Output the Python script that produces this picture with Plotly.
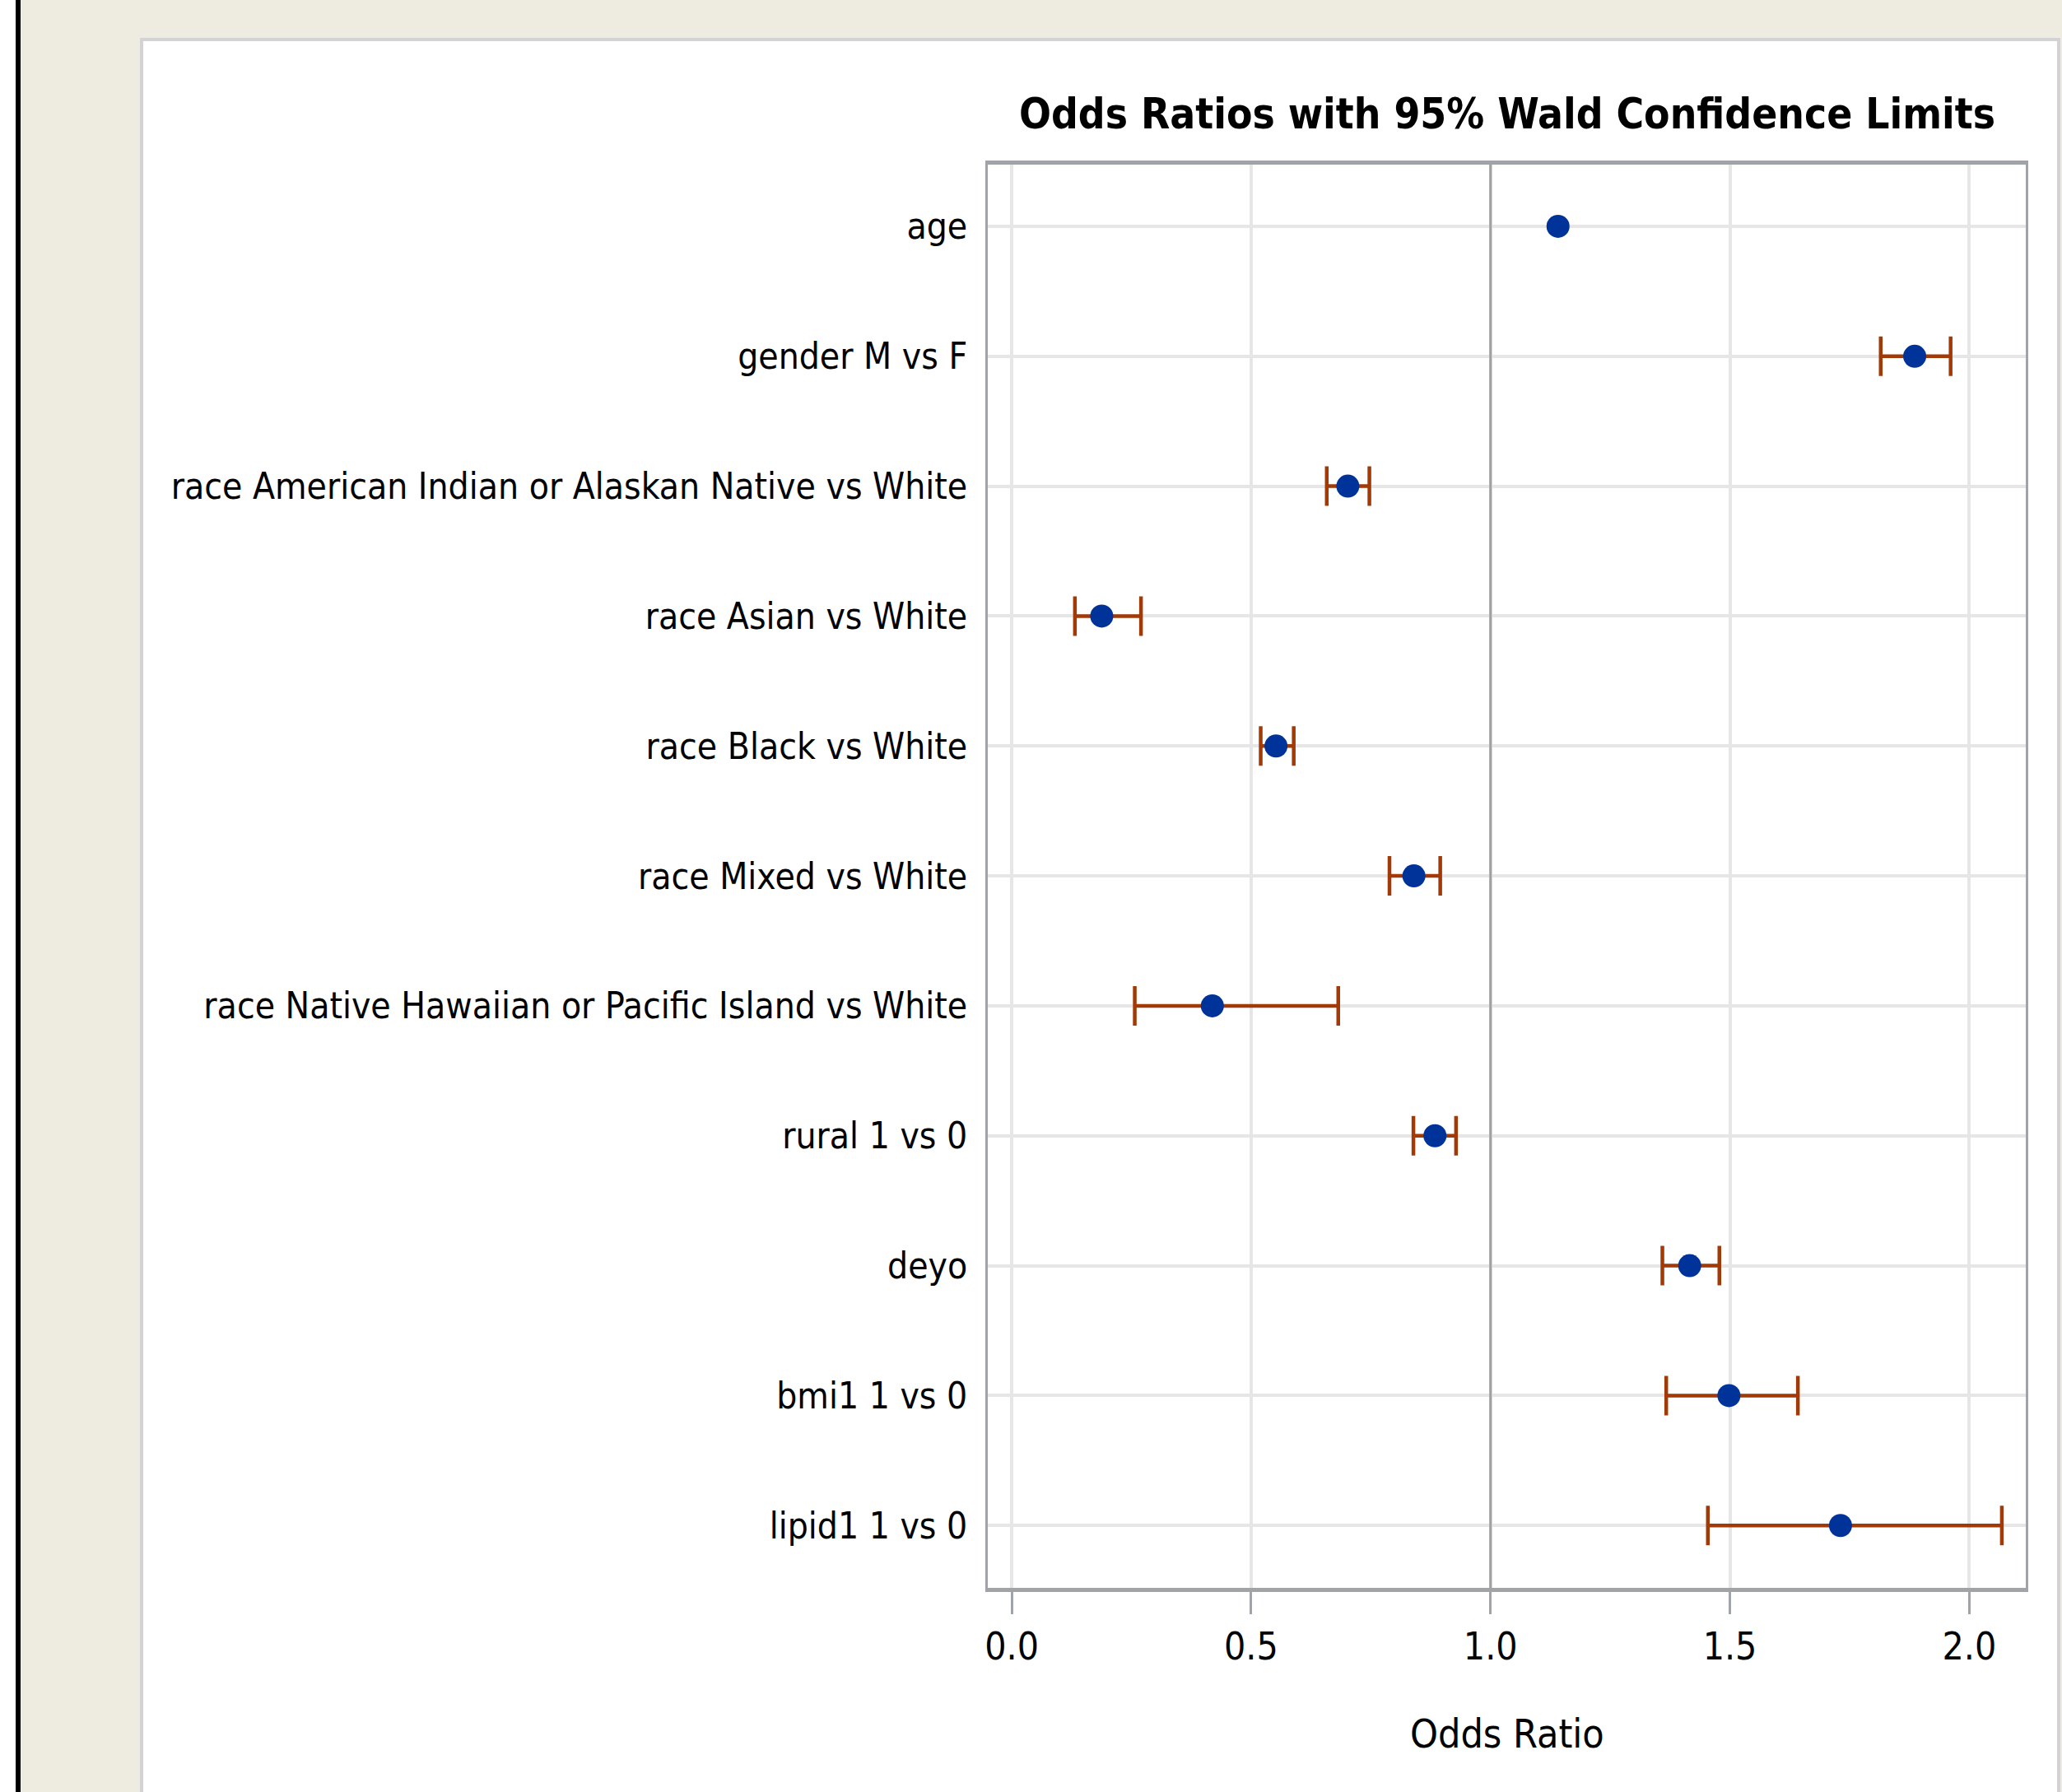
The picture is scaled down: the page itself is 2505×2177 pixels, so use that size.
import plotly.graph_objects as go

# ---- data ----
labels = [
    "age",
    "gender M vs F",
    "race American Indian or Alaskan Native vs White",
    "race Asian vs White",
    "race Black vs White",
    "race Mixed vs White",
    "race Native Hawaiian or Pacific Island vs White",
    "rural 1 vs 0",
    "deyo",
    "bmi1 1 vs 0",
    "lipid1 1 vs 0",
]
odds_ratio = [1.141, 1.886, 0.702, 0.188, 0.552, 0.840, 0.419, 0.884, 1.416, 1.498, 1.731]
lower_cl = [None, 1.815, 0.658, 0.132, 0.520, 0.789, 0.257, 0.839, 1.359, 1.367, 1.454]
upper_cl = [None, 1.961, 0.747, 0.270, 0.589, 0.895, 0.682, 0.928, 1.478, 1.642, 2.068]
x_ticks = [0.0, 0.5, 1.0, 1.5, 2.0]
x_tick_labels = ["0.0", "0.5", "1.0", "1.5", "2.0"]
title_text = "Odds Ratios with 95% Wald Confidence Limits"
x_title = "Odds Ratio"

# ---- layout geometry (pixels) ----
W, H = 2505, 2177
PL, PR, PT, PB = 1200, 2461, 200, 1929  # plot area
FONT = "Liberation Sans Narrow, Arial Narrow, DejaVu Sans Condensed, sans-serif"

def px_x(p):
    return (p - PL) / (PR - PL)

def px_y(p):
    return (PB - p) / (PB - PT)

ypos = list(range(len(labels)))

# rows that have confidence limits
ci_idx = [i for i, (l, u) in enumerate(zip(lower_cl, upper_cl)) if l is not None and u is not None]
ci_x = [odds_ratio[i] for i in ci_idx]
ci_y = [ypos[i] for i in ci_idx]
err_plus = [upper_cl[i] - odds_ratio[i] for i in ci_idx]
err_minus = [odds_ratio[i] - lower_cl[i] for i in ci_idx]

fig = go.Figure()
fig.add_trace(go.Scatter(
    x=ci_x, y=ci_y, mode="markers",
    marker=dict(color="rgba(0,0,0,0)", size=1),
    error_x=dict(type="data", symmetric=False, array=err_plus, arrayminus=err_minus,
                 color="#A23A08", thickness=4.5, width=24),
    showlegend=False, hoverinfo="skip",
))
fig.add_trace(go.Scatter(
    x=odds_ratio, y=ypos, mode="markers",
    marker=dict(color="#003399", size=28, line=dict(width=0)),
    showlegend=False, hoverinfo="x+y",
))

shapes = [
    dict(type="rect", xref="paper", yref="paper", x0=px_x(-10), x1=px_x(19), y0=px_y(H + 10), y1=px_y(-10),
         fillcolor="white", line=dict(width=0), layer="below"),
    dict(type="rect", xref="paper", yref="paper", x0=px_x(19), x1=px_x(25), y0=px_y(H + 10), y1=px_y(-10),
         fillcolor="black", line=dict(width=0), layer="below"),
    dict(type="rect", xref="paper", yref="paper", x0=px_x(172), x1=px_x(2501), y0=px_y(H + 20), y1=px_y(48),
         fillcolor="white", line=dict(color="#D3D3D3", width=4), layer="below"),
    dict(type="line", xref="x", yref="paper", x0=1, x1=1, y0=0, y1=1,
         line=dict(color="#A0A0A0", width=3), layer="above"),
]

annotations = [
    dict(text="<b>" + title_text + "</b>", xref="paper", yref="paper", x=0.5, y=px_y(138),
         xanchor="center", yanchor="middle", showarrow=False,
         font=dict(family=FONT, size=51, color="black")),
    dict(text=x_title, xref="paper", yref="paper", x=0.5, y=px_y(2106),
         xanchor="center", yanchor="middle", showarrow=False,
         font=dict(family=FONT, size=48, color="black")),
]

fig.update_layout(
    width=W, height=H,
    margin=dict(l=PL, r=W - PR, t=PT, b=H - PB, pad=0, autoexpand=False),
    paper_bgcolor="#EEECE1",
    plot_bgcolor="white",
    shapes=shapes,
    annotations=annotations,
    font=dict(family=FONT, size=44, color="black"),
)
fig.update_xaxes(
    range=[-0.05, 2.118], tickvals=x_ticks, ticktext=x_tick_labels, automargin=False,
    showgrid=True, gridcolor="#E6E6E6", gridwidth=4, zeroline=False,
    showline=True, mirror=True, linecolor="#A0A4A8", linewidth=5,
    ticks="outside", ticklen=27, tickwidth=3, tickcolor="#A0A4A8",
    tickfont=dict(family=FONT, size=46, color="black"),
)
fig.update_yaxes(
    range=[10.48, -0.475], tickvals=ypos, ticktext=labels, automargin=False,
    showgrid=True, gridcolor="#E6E6E6", gridwidth=4, zeroline=False,
    showline=True, mirror=True, linecolor="#A0A4A8", linewidth=3,
    ticks="outside", ticklen=13, tickwidth=1, tickcolor="rgba(0,0,0,0)",
    tickfont=dict(family=FONT, size=44, color="black"),
)

fig.write_html("out.html", config={"displayModeBar": False},
               post_script="document.body.style.margin='0px';")
